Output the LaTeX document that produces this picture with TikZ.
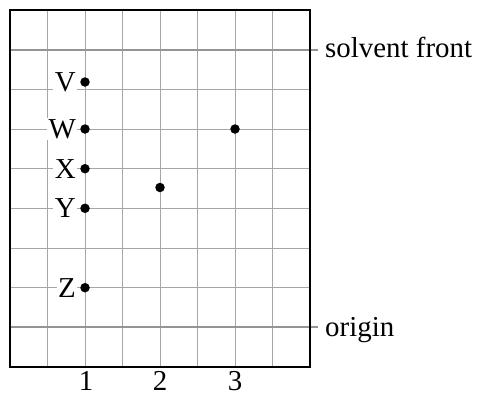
\documentclass[tikz,border=0pt]{standalone}
\usepackage{fontspec}
\setmainfont{Liberation Serif}
\begin{document}
\begin{tikzpicture}[x=1bp,y=-1bp,
  gridline/.style={draw=black!35,line width=1bp},
  frontline/.style={draw=black!42,line width=2.2bp},
  frame/.style={draw=black,line width=1.4bp},
  spot/.style={circle,fill=black,inner sep=0pt,minimum size=9.5bp},
  lbl/.style={anchor=east,fill=white,inner sep=1.5bp,font=\fontsize{29}{29}\selectfont},
  side/.style={anchor=base west,inner sep=0pt,font=\fontsize{29}{29}\selectfont},
  num/.style={anchor=base,inner sep=0pt,font=\fontsize{29}{29}\selectfont}]
\useasboundingbox (0,0) rectangle (477,392);
% grid
\foreach \i in {1,...,7} {\draw[gridline] (10+37.5*\i,10) -- (10+37.5*\i,367);}
\foreach \j in {2,...,7} {\draw[gridline] (10,10+39.67*\j) -- (310,10+39.67*\j);}
\draw[frontline] (10,49.7) -- (318,49.7);
\draw[frontline] (10,327.3) -- (318,327.3);
\draw[frame] (10,10) rectangle (310,367);
% spots
\node[spot] (v) at (85,82) {};
\node[spot] (w) at (85,129) {};
\node[spot] (x) at (85,168.7) {};
\node[spot] (y) at (85,208.3) {};
\node[spot] (z) at (85,287.7) {};
\node[spot] (s2) at (160,187.5) {};
\node[spot] (s3) at (235,129) {};
% labels
\node[lbl] (lv) at (77.5,82) {V};
\node[lbl] (lw) at (77.5,129) {W};
\node[lbl] (lx) at (77.5,168.7) {X};
\node[lbl] (ly) at (77.5,208.3) {Y};
\node[lbl] (lz) at (77.5,287.7) {Z};
\node[side] (sf) at (325,57) {solvent front};
\node[side] (or) at (325,336) {origin};
\node[num] (n1) at (86,390) {1};
\node[num] (n2) at (160,390) {2};
\node[num] (n3) at (235,390) {3};
\end{tikzpicture}
\end{document}
